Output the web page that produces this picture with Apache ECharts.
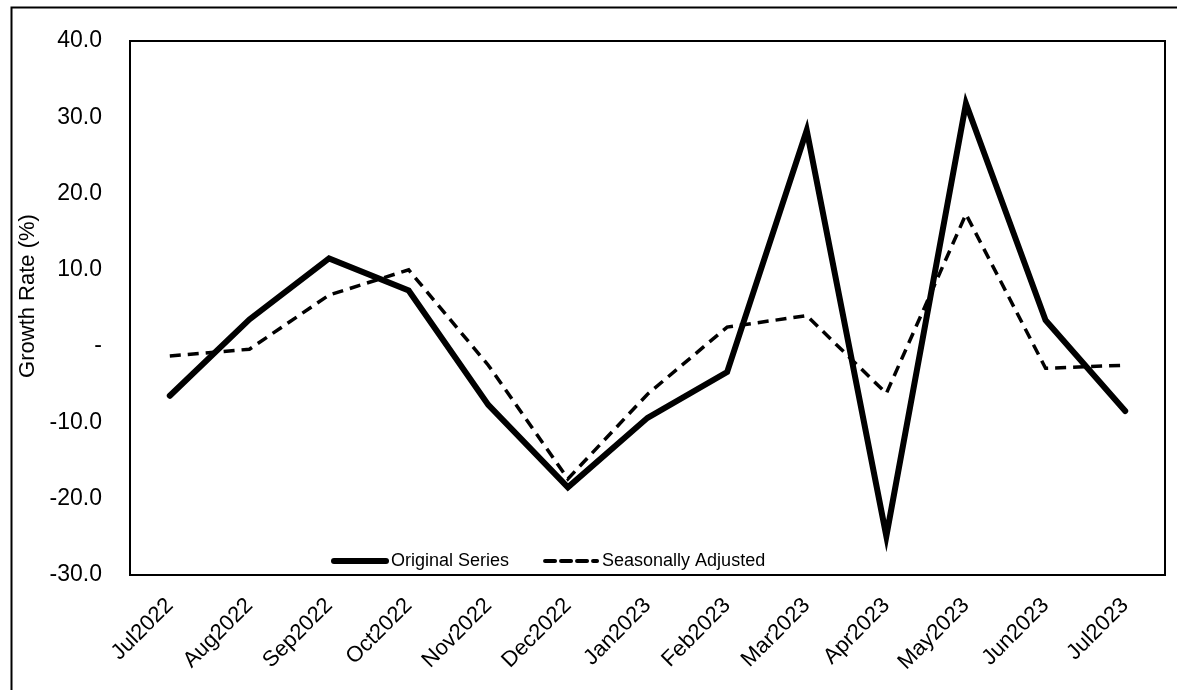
<!DOCTYPE html>
<html>
<head>
<meta charset="utf-8">
<script src="https://cdn.jsdelivr.net/npm/echarts@6/dist/echarts.min.js"></script>
<style>
html,body{margin:0;padding:0;background:#fff;}
#chart{width:1177px;height:690px;}
</style>
</head>
<body>
<div id="chart"></div>
<script>
const categories = ['Jul2022','Aug2022','Sep2022','Oct2022','Nov2022','Dec2022','Jan2023','Feb2023','Mar2023','Apr2023','May2023','Jun2023','Jul2023'];
const originalSeries = [-6.5, 3.5, 11.5, 7.3, -7.7, -18.5, -9.4, -3.4, 28.3, -24.9, 31.8, 3.4, -8.5];
const seasonallyAdjusted = [-1.3, -0.4, 6.7, 10.0, -2.5, -17.4, -6.3, 2.5, 4.0, -6.2, 17.3, -2.9, -2.5];
const yMin = -30, yMax = 40, yStep = 10;

const chart = echarts.init(document.getElementById('chart'), null, {renderer:'canvas'});
chart.setOption({
  backgroundColor:'#fff',
  animation:false,
  textStyle:{fontFamily:'Liberation Sans, Arial, sans-serif', color:'#000'},
  graphic:[{
    type:'rect', left:9, top:5,
    shape:{x:0,y:0,width:1180,height:700},
    style:{fill:null, stroke:'#000', lineWidth:2},
    silent:true, z:-1
  }],
  grid:{left:130, right:12, top:41, bottom:115, show:true, borderColor:'#000', borderWidth:2, backgroundColor:'transparent'},
  legend:{
    left:326, top:547,
    itemWidth:52, itemHeight:14, itemGap:34,
    itemStyle:{opacity:0},
    textStyle:{fontSize:18, color:'#000', fontFamily:'Liberation Sans, Arial, sans-serif'},
    data:[
      {name:'Original Series', itemStyle:{opacity:0}, lineStyle:{width:6, color:'#000', cap:'round'}},
      {name:'Seasonally Adjusted', itemStyle:{opacity:0}, lineStyle:{width:4, color:'#000', type:[10,6], cap:'round'}}
    ]
  },
  xAxis:{
    type:'category', data:categories, boundaryGap:true,
    axisLine:{show:false}, axisTick:{show:false}, splitLine:{show:false},
    axisLabel:{rotate:45, margin:27, fontSize:22, color:'#000', interval:0}
  },
  yAxis:{
    type:'value', min:yMin, max:yMax, interval:yStep,
    name:'Growth Rate (%)', nameLocation:'middle', nameGap:90, nameRotate:90,
    nameTextStyle:{fontSize:22, color:'#000', padding:[0,0,0,24]},
    axisLine:{show:false}, axisTick:{show:false}, splitLine:{show:false},
    axisLabel:{margin:28, fontSize:23, color:'#000',
      formatter:function(v){ return v === 0 ? '-' : v.toFixed(1); }}
  },
  series:[
    {name:'Original Series', type:'line', data:originalSeries, symbol:'none',
     lineStyle:{color:'#000', width:6, join:'miter', cap:'round'}, itemStyle:{color:'#000'}},
    {name:'Seasonally Adjusted', type:'line', data:seasonallyAdjusted, symbol:'none',
     lineStyle:{color:'#000', width:3.5, type:[11,7], join:'miter'}, itemStyle:{color:'#000'}}
  ]
});
</script>
</body>
</html>
